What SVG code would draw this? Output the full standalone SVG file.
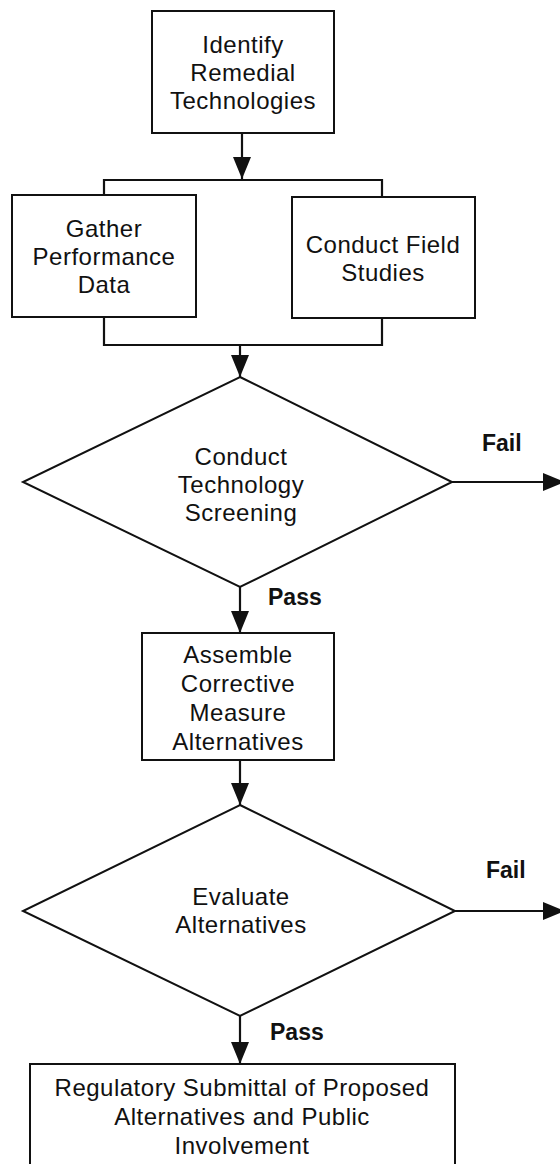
<svg xmlns="http://www.w3.org/2000/svg" width="560" height="1164" viewBox="0 0 560 1164">
<defs>
<style>
.shape{fill:#fff;stroke:#111;stroke-width:2}
.ln{fill:none;stroke:#111;stroke-width:2.2}
.t{font-family:"Liberation Sans",Arial,sans-serif;font-size:24px;letter-spacing:0.5px;fill:#111;text-anchor:middle}
.lb{font-family:"Liberation Sans",Arial,sans-serif;font-size:23px;font-weight:bold;fill:#111}
</style>
<marker id="ah" markerUnits="userSpaceOnUse" markerWidth="24" markerHeight="20" refX="22" refY="9" orient="auto">
<path d="M0,0 L22,9 L0,18 Z" fill="#111"/>
</marker>
</defs>
<rect width="560" height="1164" fill="#fff"/>
<g id="connectors">
<line class="ln" x1="242" y1="133" x2="242" y2="179" marker-end="url(#ah)"/>
<polyline class="ln" points="104,195 104,180 382,180 382,197"/>
<polyline class="ln" points="104,317 104,345 382,345 382,318"/>
<line class="ln" x1="240" y1="345" x2="240" y2="377" marker-end="url(#ah)"/>
<line class="ln" x1="452" y1="482" x2="565" y2="482" marker-end="url(#ah)"/>
<line class="ln" x1="240" y1="587" x2="240" y2="633" marker-end="url(#ah)"/>
<line class="ln" x1="240" y1="760" x2="240" y2="805" marker-end="url(#ah)"/>
<line class="ln" x1="455" y1="911" x2="565" y2="911" marker-end="url(#ah)"/>
<line class="ln" x1="240" y1="1016" x2="240" y2="1064" marker-end="url(#ah)"/>
<text class="lb" x="482" y="451">Fail</text>
<text class="lb" x="268" y="605">Pass</text>
<text class="lb" x="486" y="878">Fail</text>
<text class="lb" x="270" y="1040">Pass</text>
</g>
<g id="identify">
<rect class="shape" x="152" y="11" width="182" height="122"/>
<text class="t" x="243" y="53">Identify</text>
<text class="t" x="243" y="81">Remedial</text>
<text class="t" x="243" y="109">Technologies</text>
</g>
<g id="gather">
<rect class="shape" x="12" y="195" width="184" height="122"/>
<text class="t" x="104" y="237">Gather</text>
<text class="t" x="104" y="265">Performance</text>
<text class="t" x="104" y="293">Data</text>
</g>
<g id="field">
<rect class="shape" x="292" y="197" width="183" height="121"/>
<text class="t" x="383" y="253">Conduct Field</text>
<text class="t" x="383" y="281">Studies</text>
</g>
<g id="screening">
<polygon class="shape" points="240,377 452,482 240,587 23,482"/>
<text class="t" x="241" y="465">Conduct</text>
<text class="t" x="241" y="493">Technology</text>
<text class="t" x="241" y="521">Screening</text>
</g>
<g id="assemble">
<rect class="shape" x="142" y="633" width="192" height="127"/>
<text class="t" x="238" y="663">Assemble</text>
<text class="t" x="238" y="692">Corrective</text>
<text class="t" x="238" y="721">Measure</text>
<text class="t" x="238" y="750">Alternatives</text>
</g>
<g id="evaluate">
<polygon class="shape" points="240,805 455,911 240,1016 23,911"/>
<text class="t" x="241" y="905">Evaluate</text>
<text class="t" x="241" y="933">Alternatives</text>
</g>
<g id="regulatory">
<rect class="shape" x="30" y="1064" width="425" height="110"/>
<text class="t" x="242" y="1096">Regulatory Submittal of Proposed</text>
<text class="t" x="242" y="1125">Alternatives and Public</text>
<text class="t" x="242" y="1154">Involvement</text>
</g>
</svg>
